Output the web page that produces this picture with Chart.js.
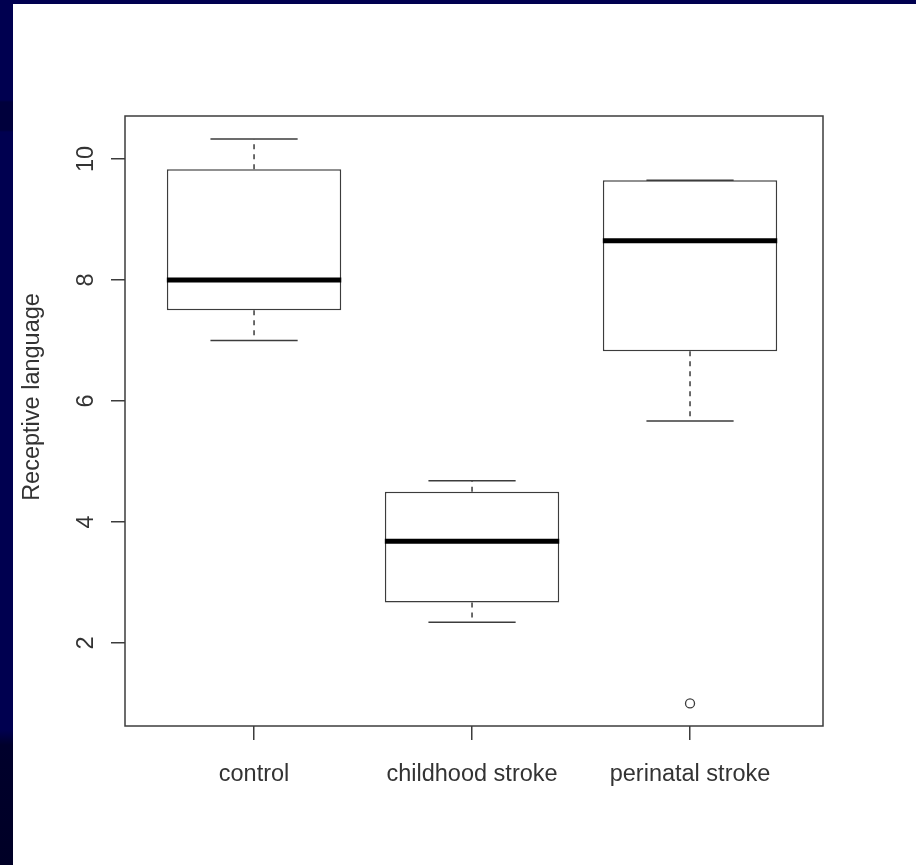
<!DOCTYPE html>
<html>
<head>
<meta charset="utf-8">
<script src="https://cdn.jsdelivr.net/npm/chart.js@4/dist/chart.umd.min.js"></script>
<style>

    html, body {
        margin: 0;
        padding: 0;
        width: 916px;
        height: 865px;
        overflow: hidden;
        background: #000050;
    }

    #edge {
        position: absolute;
        left: 0;
        top: 0;
        width: 13px;
        height: 865px;
        background: linear-gradient(
            to bottom,
            #000050 0px,
            #000050 100px,
            #00003c 102px,
            #00003c 130px,
            #000050 132px,
            #000050 730px,
            #00002c 745px,
            #000026 865px
        );
    }

    #sheet {
        position: absolute;
        left: 13px;
        top: 4px;
        width: 903px;
        height: 861px;
        background: #ffffff;
    }

</style>
</head>
<body>

<div id="edge"></div>

<div id="sheet">
    <canvas id="boxChart" width="903" height="861"></canvas>
</div>

<script>

/*
 * Data
 */

const groups = [
    "control",
    "childhood stroke",
    "perinatal stroke"
];

const whiskerLow = [7.0, 2.34, 5.67];
const boxLow = [7.5, 2.67, 6.82];
const medians = [8.0, 3.68, 8.65];
const boxHigh = [9.83, 4.5, 9.65];
const whiskerHigh = [10.33, 4.68, 9.65];

const outlierGroup = [3];
const outlierValue = [1.0];

const yTicks = [2, 4, 6, 8, 10];


/*
 * Build the pieces of each box
 */

const ink = "#3c3c3c";
const textInk = "#333333";
const font = { family: "'Liberation Sans', Arial, sans-serif", size: 23.5 };

const boxes = groups.map(
    (g, i) => ({ x: i + 1, y: [boxLow[i], boxHigh[i]] })
);

const whiskers = [];
const caps = [];
const medianLines = [];

groups.forEach((g, i) => {

    const x = i + 1;

    whiskers.push(
        { x, y: boxHigh[i] }, { x, y: whiskerHigh[i] }, { x, y: null },
        { x, y: boxLow[i] }, { x, y: whiskerLow[i] }, { x, y: null }
    );

    caps.push(
        { x: x - 0.2, y: whiskerHigh[i] }, { x: x + 0.2, y: whiskerHigh[i] }, { x, y: null },
        { x: x - 0.2, y: whiskerLow[i] }, { x: x + 0.2, y: whiskerLow[i] }, { x, y: null }
    );

    medianLines.push(
        { x: x - 0.4, y: medians[i] }, { x: x + 0.4, y: medians[i] }, { x, y: null }
    );

});

const outliers = outlierGroup.map(
    (g, i) => ({ x: g, y: outlierValue[i] })
);


/*
 * Frame and y title
 */

const framePlugin = {

    id: "frame",

    afterDraw(chart) {

        const { ctx, chartArea } = chart;

        ctx.save();
        ctx.strokeStyle = ink;
        ctx.lineWidth = 1.5;
        ctx.strokeRect(
            chartArea.left,
            chartArea.top,
            chartArea.right - chartArea.left,
            chartArea.bottom - chartArea.top
        );

        // R puts the label a little above the middle here
        ctx.translate(20, (chartArea.top + chartArea.bottom) / 2 - 24);
        ctx.rotate(-Math.PI / 2);
        ctx.fillStyle = textInk;
        ctx.font = font.size + "px " + font.family;
        ctx.textAlign = "center";
        ctx.textBaseline = "middle";
        ctx.fillText("Receptive language", 0, 0);
        ctx.restore();

    }

};


/*
 * Chart
 */

new Chart(

    document.getElementById("boxChart"),

    {

        type: "bar",

        data: {

            datasets: [

                {
                    type: "bar",
                    data: boxes,
                    backgroundColor: "#ffffff",
                    borderColor: ink,
                    borderWidth: 1.5,
                    borderSkipped: false,
                    barPercentage: 0.8,
                    categoryPercentage: 1,
                    order: 4
                },

                {
                    type: "line",
                    data: whiskers,
                    borderColor: ink,
                    borderWidth: 1.5,
                    borderDash: [5, 5],
                    borderCapStyle: "butt",
                    pointRadius: 0,
                    spanGaps: false,
                    order: 3
                },

                {
                    type: "line",
                    data: caps,
                    borderColor: ink,
                    borderWidth: 1.5,
                    pointRadius: 0,
                    spanGaps: false,
                    order: 2
                },

                {
                    type: "line",
                    data: medianLines,
                    borderColor: "#000000",
                    borderWidth: 5,
                    borderCapStyle: "butt",
                    pointRadius: 0,
                    spanGaps: false,
                    order: 1
                },

                {
                    type: "line",
                    data: outliers,
                    showLine: false,
                    pointStyle: "circle",
                    pointRadius: 4.5,
                    pointBorderWidth: 1.3,
                    pointBorderColor: ink,
                    pointBackgroundColor: "#ffffff",
                    order: 0
                }

            ]

        },

        options: {

            responsive: false,
            animation: false,
            events: [],

            layout: {
                padding: { top: 112, right: 93, left: 0, bottom: 0 }
            },

            plugins: {
                legend: { display: false },
                tooltip: { enabled: false }
            },

            scales: {

                x: {
                    type: "linear",
                    min: 0.408,
                    max: 3.61,
                    offset: false,
                    afterFit: s => { s.height = 139; },
                    afterBuildTicks: s => {
                        s.ticks = groups.map((g, i) => ({ value: i + 1 }));
                    },
                    border: { display: false },
                    grid: {
                        offset: false,
                        drawOnChartArea: false,
                        drawTicks: true,
                        tickLength: 14,
                        color: ink,
                        lineWidth: 1.5
                    },
                    ticks: {
                        autoSkip: false,
                        maxRotation: 0,
                        padding: 20,
                        color: textInk,
                        font,
                        callback: v => groups[v - 1]
                    }
                },

                y: {
                    type: "linear",
                    min: 0.627,
                    max: 10.71,
                    afterFit: s => { s.width = 112; },
                    afterBuildTicks: s => {
                        s.ticks = yTicks.map(v => ({ value: v }));
                    },
                    border: { display: false },
                    grid: {
                        drawOnChartArea: false,
                        drawTicks: true,
                        tickLength: 14,
                        color: ink,
                        lineWidth: 1.5
                    },
                    ticks: {
                        minRotation: 90,
                        maxRotation: 90,
                        crossAlign: "center",
                        padding: 11,
                        color: textInk,
                        font,
                        callback: v => String(v)
                    }
                }

            }

        },

        plugins: [framePlugin]

    }

);

</script>
</body>
</html>
